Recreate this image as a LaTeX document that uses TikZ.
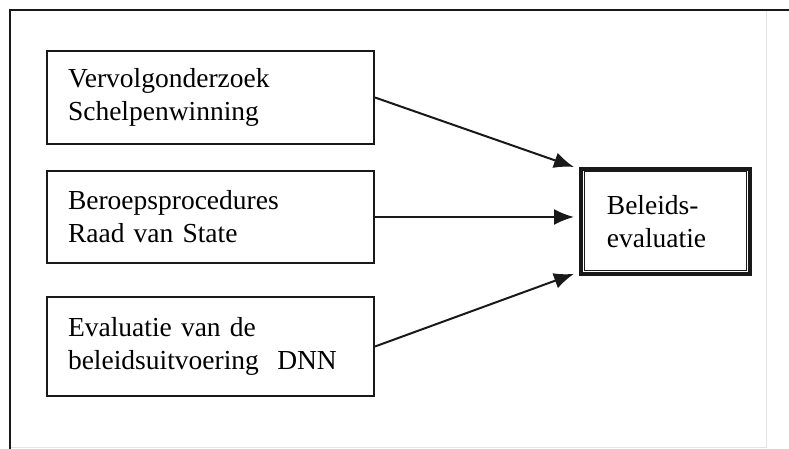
\documentclass[tikz,border=0pt]{standalone}
\usepackage{fontspec}
\setmainfont{Liberation Serif}
\usetikzlibrary{arrows.meta}
\begin{document}
\begin{tikzpicture}[x=1pt,y=-1pt,
  srcbox/.style={draw=black!90,line width=2pt,anchor=north west,rectangle,
    minimum width=327pt,text width=285pt,inner xsep=21pt,align=left,
    font=\fontsize{27.5}{33}\selectfont},
  resbox/.style={draw=black!90,line width=3.8pt,anchor=north west,rectangle,
    minimum width=169pt,minimum height=105pt,text width=117pt,inner xsep=26pt,align=left,
    font=\fontsize{27.5}{33}\selectfont},
  arr/.style={draw=black!90,line width=2pt,-{Latex[length=20pt,width=16pt]}},
  frame/.style={draw=black!90,line width=2pt}]
\useasboundingbox (0,0) rectangle (789,449);
% outer frame
\coordinate (ftl) at (10,10);
\coordinate (ftr) at (789,10);
\coordinate (fbl) at (10,449);
\draw[draw=black!10,line width=1pt] (10,447) -- (766,447) -- (766,10);
\draw[frame] (fbl) -- (ftl) -- (ftr);
% source boxes
\node[srcbox,minimum height=93pt] (b1) at (46,50) {Vervolgonderzoek\\Schelpenwinning};
\node[srcbox,minimum height=92pt] (b2) at (46,170) {Beroepsprocedures\\Raad van State};
\node[srcbox,minimum height=99pt] (b3) at (46,296) {Evaluatie van de\\beleidsuitvoering~~DNN};
% result box
\node[resbox] (B) at (579,167) {Beleids-\\evaluatie};
\draw[draw=black!90,line width=1pt] ([shift={(5pt,-5pt)}]B.north west) rectangle ([shift={(-5pt,5pt)}]B.south east);
% arrows
\coordinate (t2) at ([xshift=-5pt]B.west);
\draw[arr] (b1.east) -- ([xshift=-5pt]B.north west);
\draw[arr] (b2.east) -- (b2.east -| t2);
\draw[arr] (b3.east) -- ([shift={(-5pt,2pt)}]B.south west);
\end{tikzpicture}
\end{document}
